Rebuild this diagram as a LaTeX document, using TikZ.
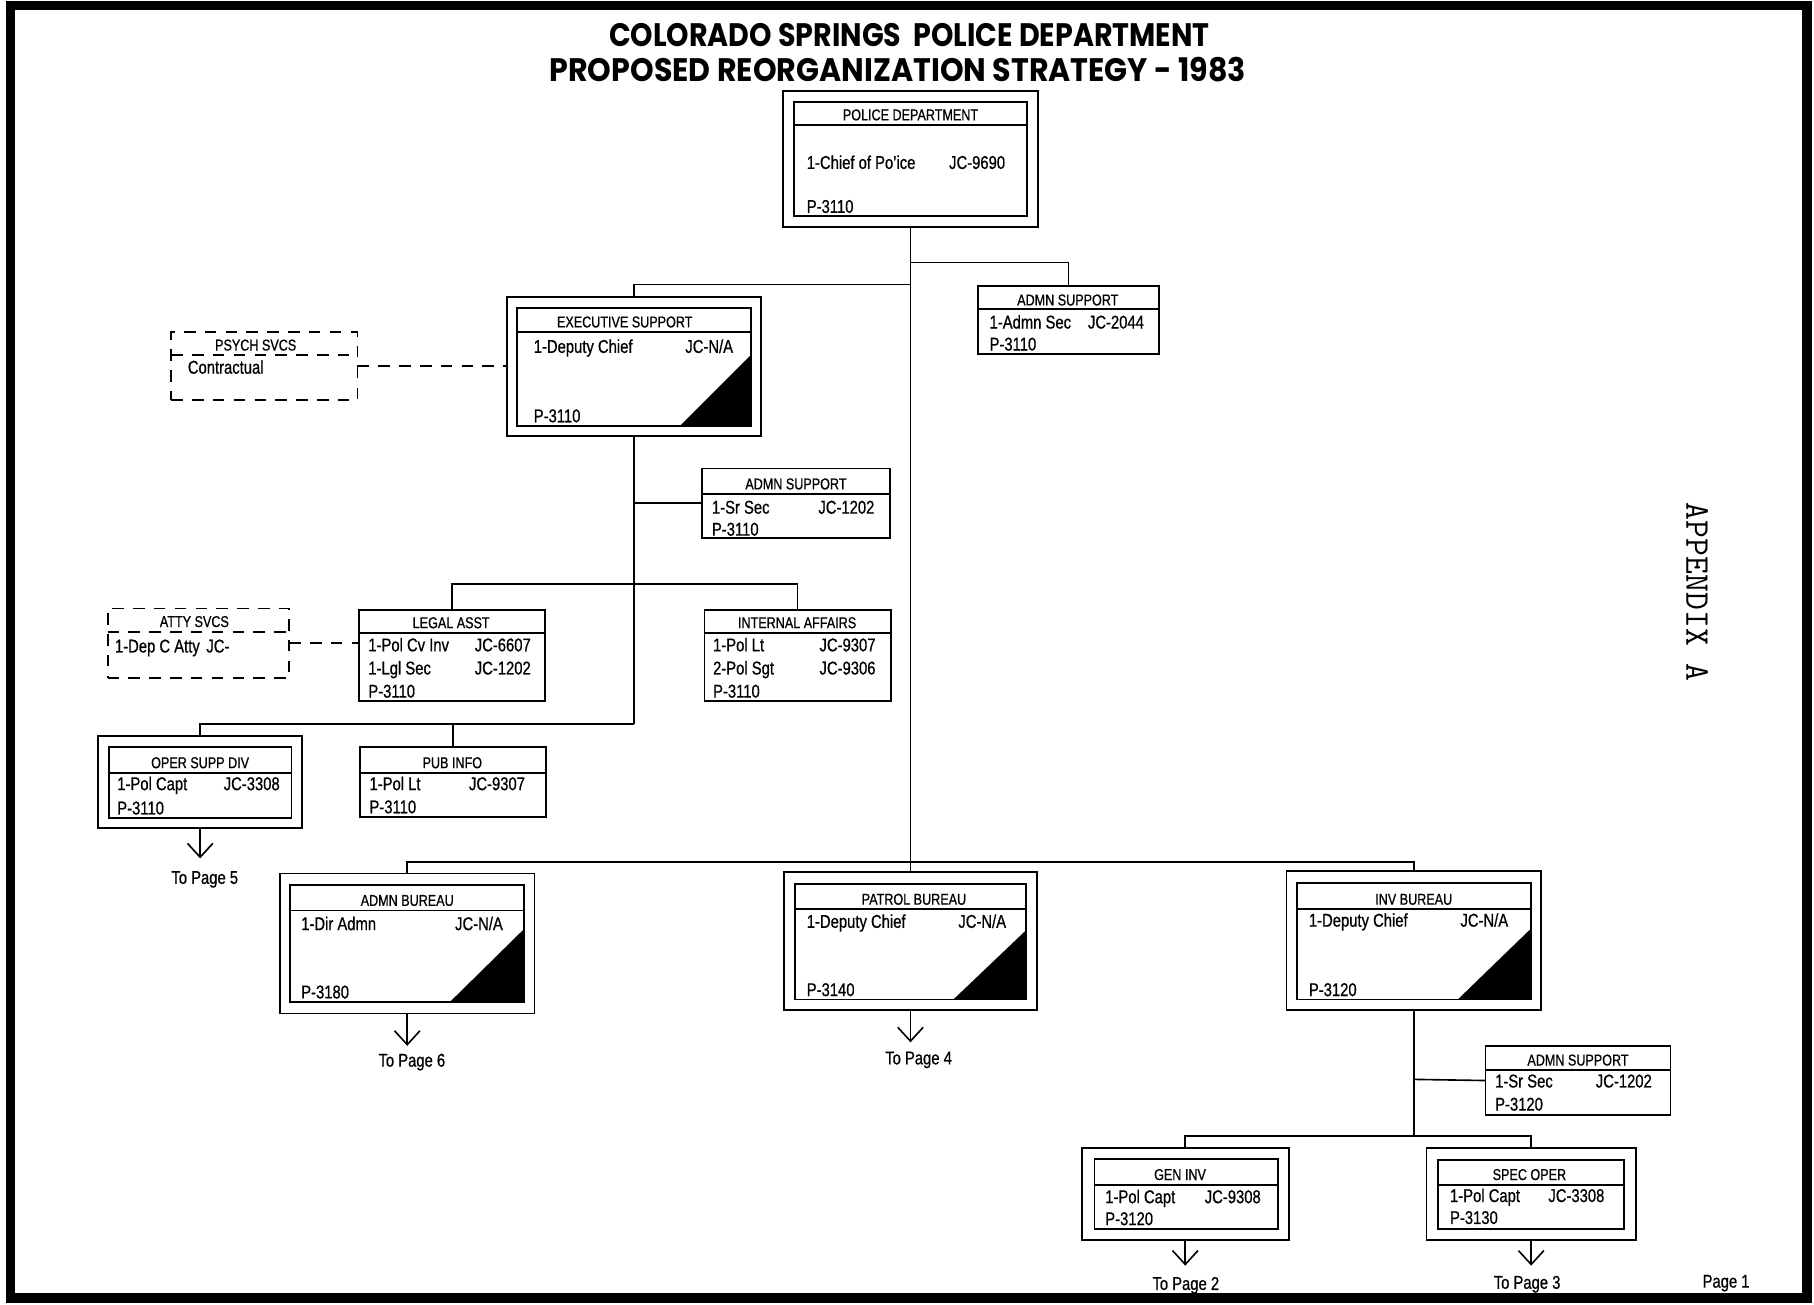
\documentclass[tikz,border=0pt]{standalone}
\usepackage{graphicx}
\usepackage{fontspec}
\setmainfont{Liberation Sans}[FakeStretch=0.8,FakeBold=0.7]
\newfontfamily\titlefont{Poppins}
\usetikzlibrary{fit,arrows.meta}
\tikzset{
 obox/.style={draw, line width=0.8pt, inner sep=0pt, outer sep=0pt},
 dbox/.style={draw, line width=0.8pt, dash pattern=on 5pt off 4pt, inner sep=0pt, outer sep=0pt},
 conn/.style={line width=0.7pt},
 dconn/.style={line width=0.8pt, dash pattern=on 5pt off 4pt},
 dv/.style={line width=0.8pt},
 hd/.style={anchor=base, inner sep=0pt, font=\fontsize{6.8pt}{8pt}\selectfont},
 tx/.style={anchor=base west, inner sep=0pt, font=\fontsize{8pt}{9pt}\selectfont},
 tp/.style={anchor=base, inner sep=0pt, font=\fontsize{8pt}{9pt}\selectfont},
 arr/.style={line width=0.7pt, -{Straight Barb[length=6pt,width=11pt,line width=0.7pt]}},
}
\begin{document}
\begin{tikzpicture}[x=0.5pt,y=-0.5pt]
\useasboundingbox (0,0) rectangle (1568,1128);
\draw[line width=4pt] (9,5) rectangle (1562,1122);

% titles
\node[inner sep=0pt] (title1) at (786,30) {\resizebox{259.5pt}{10pt}{\titlefont\bfseries COLORADO SPRINGS\ \ POLICE DEPARTMENT}};
\node[inner sep=0pt] (title2) at (776,60) {\resizebox{301pt}{10.5pt}{\titlefont\bfseries PROPOSED REORGANIZATION STRATEGY - 1983}};
\node[rotate=-90, inner sep=0pt, font=\ttfamily\fontsize{15pt}{17pt}\selectfont] (app) at (1467,512) {APPENDIX A};

% POLICE DEPARTMENT
\node[obox, fit={(677,79)(897,196)}] (pd) {};
\node[obox, fit={(686,88)(888,187)}] (pdi) {};
\draw[dv] (686,108) -- (888,108);
\node[hd] (pdh) at (787,104) {POLICE DEPARTMENT};
\node[tx] (pd1) at (697,146) {1-Chief of Po'ice};
\node[tx] (pd1j) at (820,146) {JC-9690};
\node[tx] (pdp) at (697,184) {P-3110};

% ADMN SUPPORT (top)
\node[obox, fit={(845,247)(1002,306)}] (as1) {};
\draw[dv] (845,267) -- (1002,267);
\node[hd] (as1h) at (923,264) {ADMN SUPPORT};
\node[tx] (as11) at (855,284) {1-Admn Sec};
\node[tx] (as11j) at (940,284) {JC-2044};
\node[tx] (as1p) at (855,303) {P-3110};

% EXECUTIVE SUPPORT
\node[obox, fit={(438,257)(658,377)}] (ex) {};
\node[obox, fit={(447,266)(649,368)}] (exi) {};
\draw[dv] (447,287) -- (649,287);
\node[hd] (exh) at (540,283) {EXECUTIVE SUPPORT};
\node[tx] (ex1) at (461,305) {1-Deputy Chief};
\node[tx] (ex1j) at (592,305) {JC-N/A};
\node[tx] (exp) at (461,365) {P-3110};
\fill (588,368) -- (649,368) -- (649,307) -- cycle;

% PSYCH SVCS
\node[dbox, fit={(148,287)(309,346)}] (ps) {};
\draw[dconn] (148,307) -- (309,307);
\node[hd] (psh) at (221,303) {PSYCH SVCS};
\node[tx] (ps1) at (162,323) {Contractual};

% ADMN SUPPORT (mid)
\node[obox, fit={(607,405)(769,465)}] (as2) {};
\draw[dv] (607,427) -- (769,427);
\node[hd] (as2h) at (688,423) {ADMN SUPPORT};
\node[tx] (as21) at (615,444) {1-Sr Sec};
\node[tx] (as21j) at (707,444) {JC-1202};
\node[tx] (as2p) at (615,463) {P-3110};

% LEGAL ASST
\node[obox, fit={(310,527)(471,606)}] (la) {};
\draw[dv] (310,547) -- (471,547);
\node[hd] (lah) at (390,543) {LEGAL ASST};
\node[tx] (la1) at (318,563) {1-Pol Cv Inv};
\node[tx] (la1j) at (410,563) {JC-6607};
\node[tx] (la2) at (318,583) {1-Lgl Sec};
\node[tx] (la2j) at (410,583) {JC-1202};
\node[tx] (lap) at (318,603) {P-3110};

% INTERNAL AFFAIRS
\node[obox, fit={(609,527)(770,606)}] (ia) {};
\draw[dv] (609,547) -- (770,547);
\node[hd] (iah) at (689,543) {INTERNAL AFFAIRS};
\node[tx] (ia1) at (616,563) {1-Pol Lt};
\node[tx] (ia1j) at (708,563) {JC-9307};
\node[tx] (ia2) at (616,583) {2-Pol Sgt};
\node[tx] (ia2j) at (708,583) {JC-9306};
\node[tx] (iap) at (616,603) {P-3110};

% ATTY SVCS
\node[dbox, fit={(93,526)(250,586)}] (at) {};
\draw[dconn] (93,546) -- (250,546);
\node[hd] (ath) at (168,542) {ATTY SVCS};
\node[tx] (at1) at (99,564) {1-Dep C Atty};
\node[tx] (at1j) at (178,564) {JC-};

% OPER SUPP DIV
\node[obox, fit={(85,636)(261,716)}] (os) {};
\node[obox, fit={(94,646)(252,707)}] (osi) {};
\draw[dv] (94,668) -- (252,668);
\node[hd] (osh) at (173,664) {OPER SUPP DIV};
\node[tx] (os1) at (101,683) {1-Pol Capt};
\node[tx] (os1j) at (193,683) {JC-3308};
\node[tx] (osp) at (101,704) {P-3110};
\node[tp] (tp5) at (177,764) {To Page 5};

% PUB INFO
\node[obox, fit={(311,646)(472,706)}] (pi) {};
\draw[dv] (311,668) -- (472,668);
\node[hd] (pih) at (391,664) {PUB INFO};
\node[tx] (pi1) at (319,683) {1-Pol Lt};
\node[tx] (pi1j) at (405,683) {JC-9307};
\node[tx] (pip) at (319,703) {P-3110};

% ADMN BUREAU
\node[obox, fit={(242,755)(462,876)}] (ab) {};
\node[obox, fit={(251,765)(453,866)}] (abi) {};
\draw[dv] (251,787) -- (453,787);
\node[hd] (abh) at (352,783) {ADMN BUREAU};
\node[tx] (ab1) at (260,804) {1-Dir Admn};
\node[tx] (ab1j) at (393,804) {JC-N/A};
\node[tx] (abp) at (260,863) {P-3180};
\fill (389,866) -- (453,866) -- (453,803) -- cycle;
\node[tp] (tp6) at (356,922) {To Page 6};

% PATROL BUREAU
\node[obox, fit={(678,754)(896,873)}] (pb) {};
\node[obox, fit={(687,764)(887,864)}] (pbi) {};
\draw[dv] (687,786) -- (887,786);
\node[hd] (pbh) at (790,782) {PATROL BUREAU};
\node[tx] (pb1) at (697,802) {1-Deputy Chief};
\node[tx] (pb1j) at (828,802) {JC-N/A};
\node[tx] (pbp) at (697,861) {P-3140};
\fill (824,864) -- (887,864) -- (887,804) -- cycle;
\node[tp] (tp4) at (794,920) {To Page 4};

% INV BUREAU
\node[obox, fit={(1112,753)(1332,873)}] (ib) {};
\node[obox, fit={(1121,763)(1323,864)}] (ibi) {};
\draw[dv] (1121,786) -- (1323,786);
\node[hd] (ibh) at (1222,782) {INV BUREAU};
\node[tx] (ib1) at (1131,801) {1-Deputy Chief};
\node[tx] (ib1j) at (1262,801) {JC-N/A};
\node[tx] (ibp) at (1131,861) {P-3120};
\fill (1260,864) -- (1323,864) -- (1323,803) -- cycle;

% ADMN SUPPORT (bottom)
\node[obox, fit={(1284,904)(1444,964)}] (as3) {};
\draw[dv] (1284,925) -- (1444,925);
\node[hd] (as3h) at (1364,921) {ADMN SUPPORT};
\node[tx] (as31) at (1292,940) {1-Sr Sec};
\node[tx] (as31j) at (1379,940) {JC-1202};
\node[tx] (as3p) at (1292,960) {P-3120};

% GEN INV
\node[obox, fit={(935,992)(1114,1072)}] (gi) {};
\node[obox, fit={(946,1002)(1105,1062)}] (gii) {};
\draw[dv] (946,1024) -- (1105,1024);
\node[hd] (gih) at (1020,1020) {GEN INV};
\node[tx] (gi1) at (955,1040) {1-Pol Capt};
\node[tx] (gi1j) at (1041,1040) {JC-9308};
\node[tx] (gip) at (955,1059) {P-3120};
\node[tp] (tp2) at (1025,1115) {To Page 2};

% SPEC OPER
\node[obox, fit={(1233,992)(1414,1072)}] (so) {};
\node[obox, fit={(1243,1003)(1404,1062)}] (soi) {};
\draw[dv] (1243,1024) -- (1404,1024);
\node[hd] (soh) at (1322,1020) {SPEC OPER};
\node[tx] (so1) at (1253,1039) {1-Pol Capt};
\node[tx] (so1j) at (1338,1039) {JC-3308};
\node[tx] (sop) at (1253,1058) {P-3130};
\node[tp] (tp3) at (1320,1114) {To Page 3};
\node[tp] (pg1) at (1492,1113) {Page 1};

% junctions
\coordinate (j1) at (787,227);
\coordinate (j2) at (787,246);
\coordinate (j3) at (548,435);
\coordinate (j4) at (548,505);
\coordinate (j5) at (548,626);
\coordinate (jb) at (787,745);
\coordinate (j6) at (1222,933);
\coordinate (j7) at (1222,982);

% connectors
\draw[conn] (pd.south) -- (pb.north);
\draw[conn] (j1) -| (as1.north);
\draw[conn] (j2) -| (ex.north);
\draw[dconn] (ps.east) -- (ps.east -| ex.west);
\draw[conn] (ex.south) -- (j5);
\draw[conn] (j3) -- (as2.west);
\draw[conn] (la.north) |- (ia.north |- j4) -- (ia.north);
\draw[dconn] (at.east) -- (at.east -| la.west);
\draw[conn] (os.north) |- (j5);
\draw[conn] (pi.north) -- (pi.north |- j5);
\draw[conn] (ab.north) |- (jb);
\draw[conn] (ib.north) |- (jb);
\draw[conn] (ib.south) -- (j7);
\draw[conn] (j6) -- (as3.west);
\draw[conn] (gi.north) |- (so.north |- j7) -- (so.north);

% arrows to pages
\draw[arr] (os.south) -- ([yshift=-13pt]os.south);
\draw[arr] (ab.south) -- ([yshift=-14pt]ab.south);
\draw[arr] (pb.south) -- ([yshift=-14pt]pb.south);
\draw[arr] (gi.south) -- ([yshift=-11pt]gi.south);
\draw[arr] (so.south) -- ([yshift=-11pt]so.south);
\end{tikzpicture}
\end{document}
